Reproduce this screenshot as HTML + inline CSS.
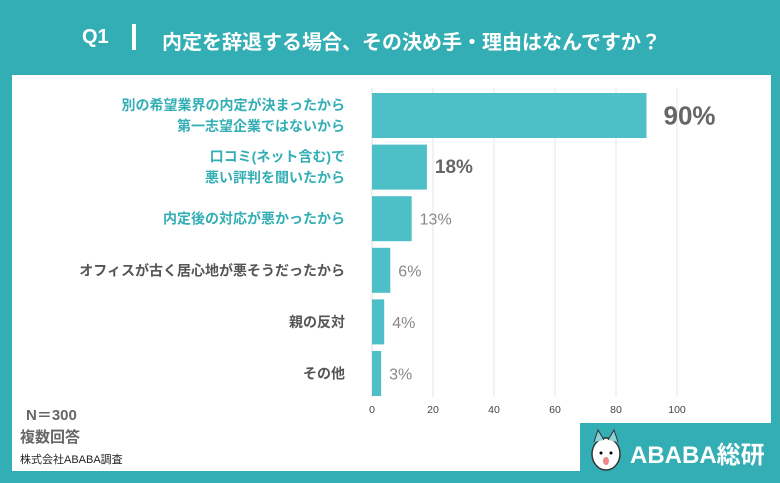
<!DOCTYPE html>
<html><head><meta charset="utf-8"><style>
body{margin:0;width:780px;height:483px;overflow:hidden;background:#33aeb4;font-family:"Liberation Sans","Noto Sans CJK JP",sans-serif;}
#panel{position:absolute;left:12px;top:75px;width:759px;height:396px;background:#fff;}
#title{position:absolute;left:0;top:0;width:780px;height:75px;color:#fff;font-size:20px;font-weight:bold;}
#logo{position:absolute;left:580px;top:423px;width:200px;height:60px;background:#33aeb4;}
svg{position:absolute;left:0;top:0}
</style></head><body>
<div id="title">
<span style="position:absolute;left:82px;top:26px">Q1</span>
<span style="position:absolute;left:132px;top:24px;width:4px;height:26px;background:#fff"></span>
<span style="position:absolute;left:162px;top:26px">内定を辞退する場合、その決め手・理由はなんですか？</span>
</div>
<div id="panel"></div>
<div id="logo">
<svg width="40" height="50" style="left:8px;top:5px"><ellipse cx="18" cy="26" rx="14" ry="16" fill="#fff" stroke="#333" stroke-width="1.5"/><path d="M6 14 L10 2 L16 12 M30 14 L26 2 L20 12" fill="#8fd3d6" stroke="#333"/><circle cx="13" cy="25" r="1.5"/><circle cx="23" cy="25" r="1.5"/><ellipse cx="18" cy="33" rx="3" ry="4" fill="#e88"/></svg>
<span style="position:absolute;left:50px;top:12px;color:#fff;font-size:24px;font-weight:bold">ABABA総研</span>
</div>
<svg id="chart" width="780" height="483"></svg>
<div style="position:absolute;left:26px;top:404px;color:#666;font-size:15px;font-weight:bold">N＝300</div>
<div style="position:absolute;left:20px;top:426px;color:#666;font-size:15px;font-weight:bold">複数回答</div>
<div style="position:absolute;left:20px;top:451px;color:#222;font-size:11px">株式会社ABABA調査</div>
<script>
const categories=[["別の希望業界の内定が決まったから","第一志望企業ではないから"],["口コミ(ネット含む)で","悪い評判を聞いたから"],["内定後の対応が悪かったから"],["オフィスが古く居心地が悪そうだったから"],["親の反対"],["その他"]];
const values=[90,18,13,6,4,3];
const valueLabels=["90%","18%","13%","6%","4%","3%"];
const ticks=[0,20,40,60,80,100];
const NS="http://www.w3.org/2000/svg";
const svg=document.getElementById('chart');
const x=v=>372+v*3.05;
const y=i=>93+i*51.6;
const bh=45;
function mk(t,a){const e=document.createElementNS(NS,t);for(const k in a)e.setAttribute(k,a[k]);svg.appendChild(e);return e;}
ticks.forEach(t=>{
 if(t>0){const g=mk('line',{x1:x(t),x2:x(t),y1:88,y2:397,stroke:'#e6e6e6'});
 
 }
 const l=mk('text',{x:x(t),y:413,'text-anchor':'middle','font-size':10.5,fill:'#444'});l.textContent=t;
 
 
});
const ax=mk('line',{x1:372,x2:372,y1:88,y2:397,stroke:'#ddd'});


values.forEach((v,i)=>{
 const r=mk('rect',{x:372,y:y(i),width:x(v)-372,height:bh,fill:'#4dbfc6'});
 
 
 const lines=categories[i];const col=i<3?'#33aeb4':'#555';
 lines.forEach((s,j)=>{
  const t=mk('text',{x:345,y:y(i)+bh/2+5+(j-(lines.length-1)/2)*21,'text-anchor':'end','font-size':14,'font-weight':'bold',fill:col});t.textContent=s;
  
  
 });
 const big=i==0,med=i==1;
 const vl=mk('text',{x:x(v)+(big?17:8),y:y(i)+bh/2+(big?9:6),'font-size':big?26:(med?19:16),'font-weight':(big||med)?'bold':'normal',fill:big||med?'#666':'#888'});vl.textContent=valueLabels[i];
 
 
});
</script>
</body></html>
